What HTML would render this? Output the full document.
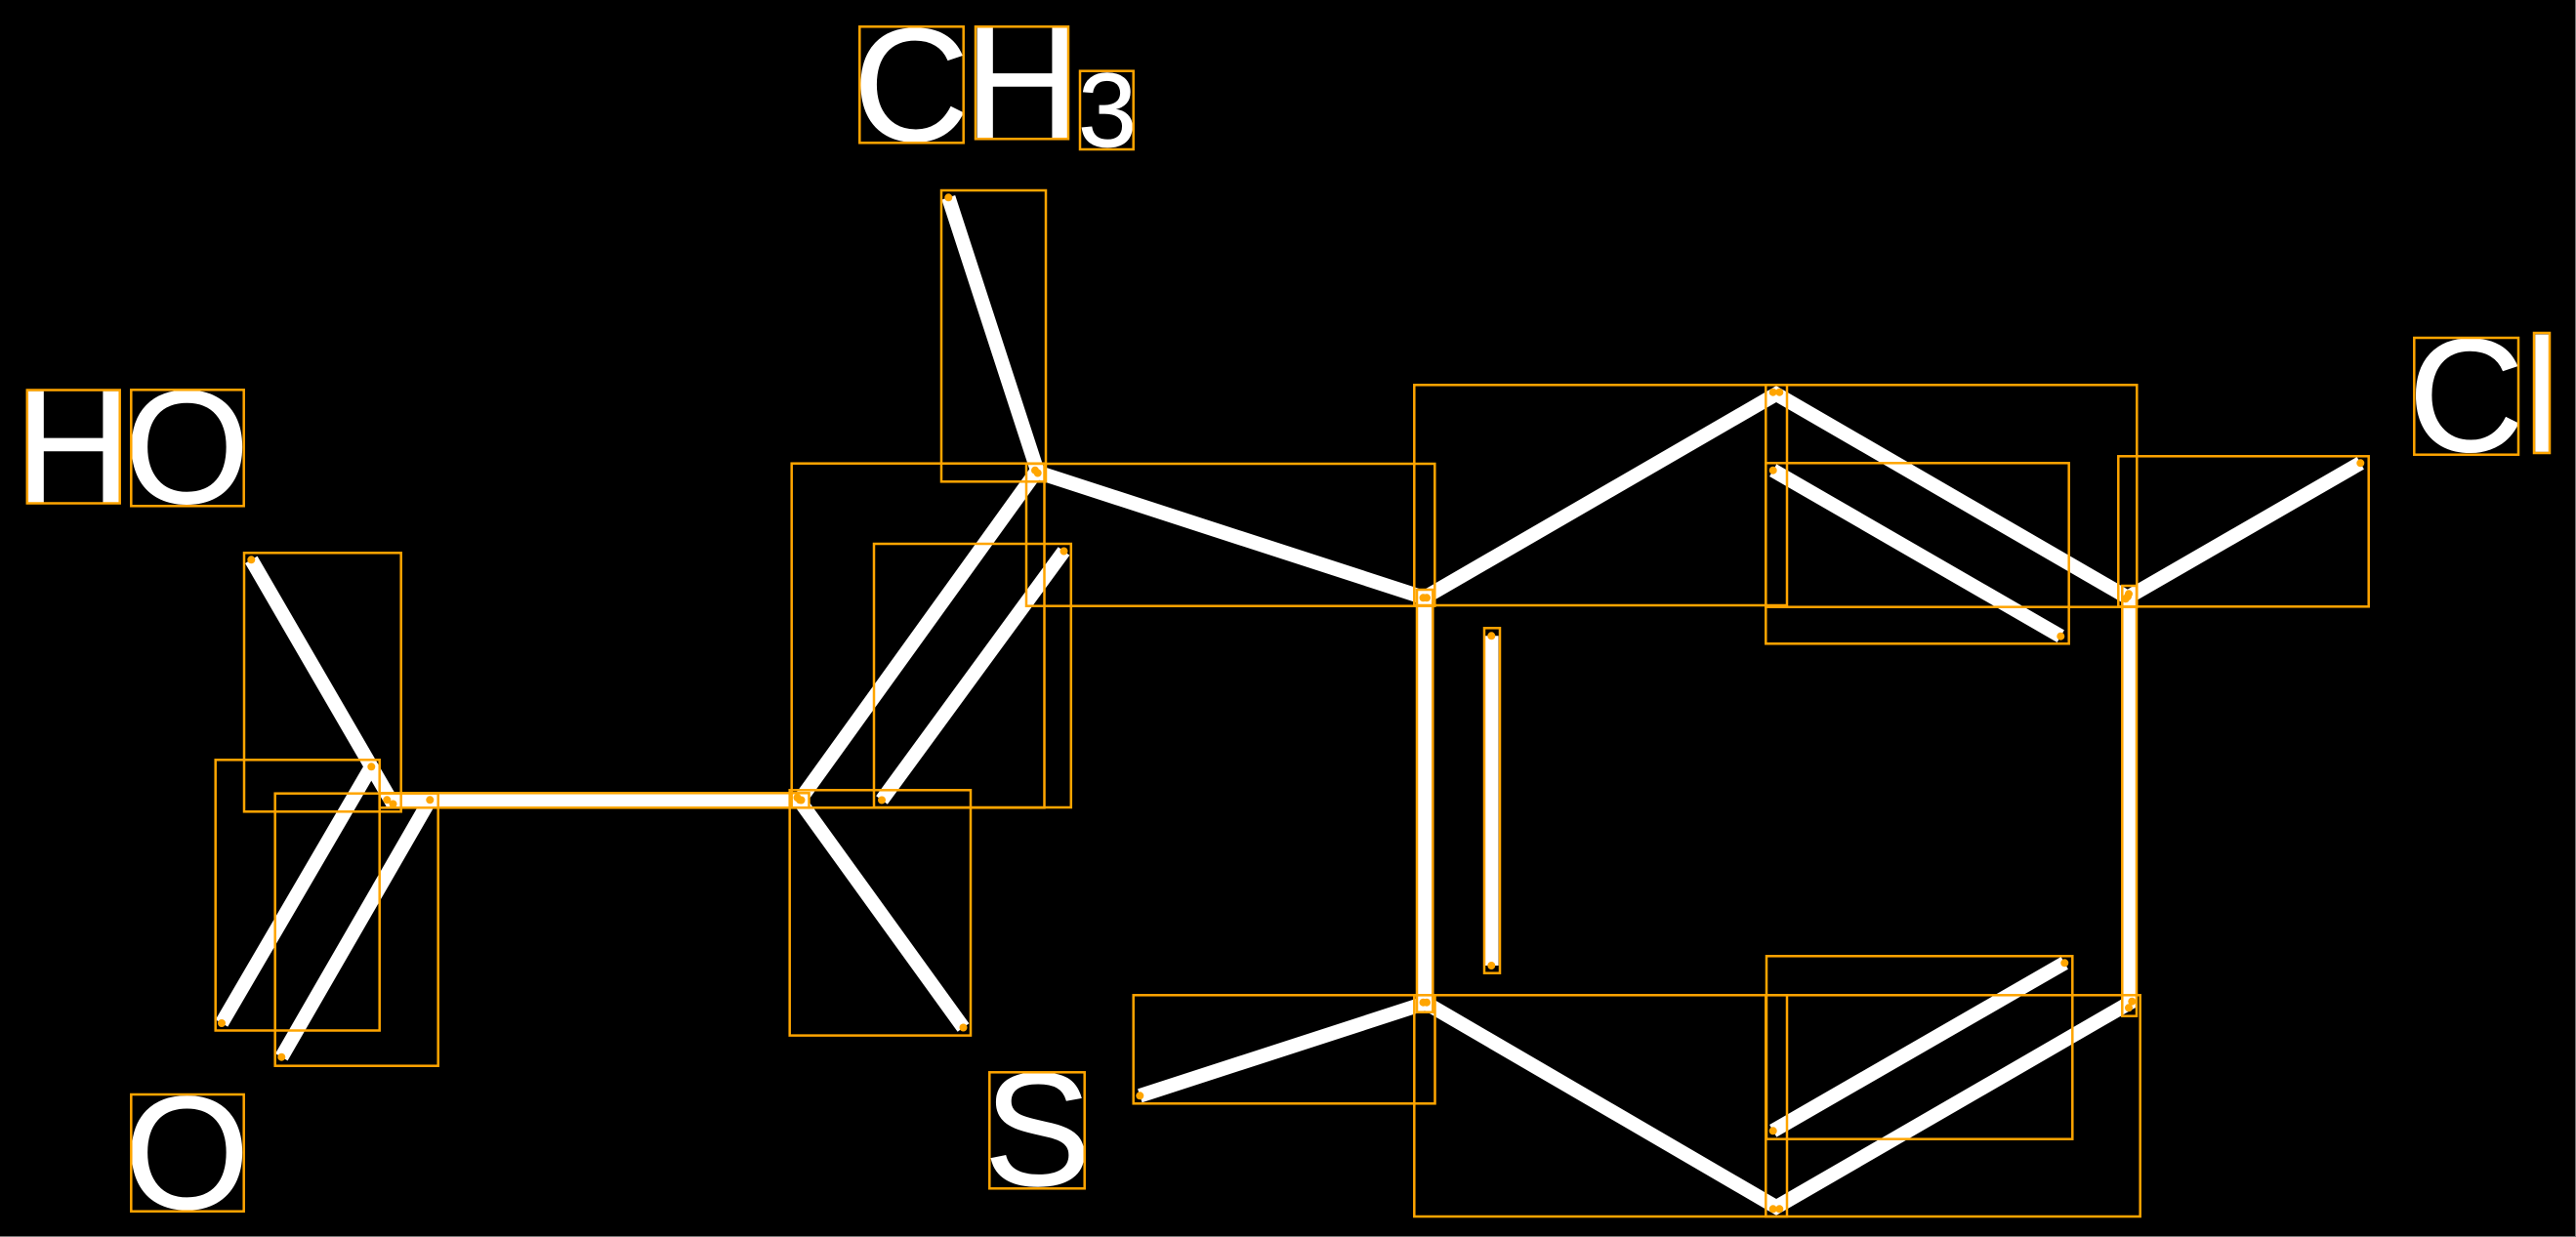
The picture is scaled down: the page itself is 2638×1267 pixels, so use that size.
<!DOCTYPE html>
<html lang="en">
<head>
<meta charset="utf-8">
<title>Molecule</title>
<style>
html,body{margin:0;padding:0;background:#000;width:2638px;height:1267px;overflow:hidden}
svg{display:block}
text{font-family:"Liberation Sans",sans-serif;fill:#fff;stroke:#fff;stroke-width:0.8px;font-size:165px}
</style>
</head>
<body>
<svg width="2638" height="1267" viewBox="0 0 2638 1267" xmlns="http://www.w3.org/2000/svg">
<rect x="0" y="0" width="2638" height="1267" fill="#000"/>
<rect x="2637" y="0" width="1" height="1267" fill="#777"/>
<rect x="0" y="1266" width="2638" height="1" fill="#777"/>

<g stroke="#fff" stroke-width="14.5" fill="none" stroke-linecap="butt">
<line x1="257.3" y1="573.3" x2="402.5" y2="823.5"/>
<line x1="380.3" y1="785.3" x2="227" y2="1048"/>
<line x1="440.3" y1="819.3" x2="288.3" y2="1082.7"/>
<line x1="396.3" y1="819.5" x2="820.5" y2="819.5"/>
<line x1="819" y1="819.5" x2="1062" y2="482"/>
<line x1="903" y1="819.5" x2="1089.5" y2="564.5"/>
<line x1="816.5" y1="817" x2="986.5" y2="1052.5"/>
<line x1="971.3" y1="202.3" x2="1063.5" y2="485.8"/>
<line x1="1059" y1="482.5" x2="1461" y2="613"/>
<line x1="1459" y1="612" x2="1459" y2="1029"/>
<line x1="1527.3" y1="651.3" x2="1527.3" y2="989"/>
<line x1="1459" y1="612" x2="1822.3" y2="401.7"/>
<line x1="1815.7" y1="401.7" x2="2180.5" y2="613"/>
<line x1="1815.7" y1="481.7" x2="2110.3" y2="651.7"/>
<line x1="2180" y1="608" x2="2180" y2="1032.3"/>
<line x1="2177" y1="613" x2="2417.3" y2="474.3"/>
<line x1="1459" y1="1026.7" x2="1822.3" y2="1238.3"/>
<line x1="1815.7" y1="1238.3" x2="2183.3" y2="1025.7"/>
<line x1="2114.3" y1="986.3" x2="1815.7" y2="1158.3"/>
<line x1="1461" y1="1027" x2="1167.3" y2="1122.3"/>
</g>

<text x="15.5" y="514.5">H</text>
<text x="127.3" y="515">O</text>
<text x="873.5" y="143.9">C</text>
<text x="987.5" y="141">H</text>
<text x="1104" y="150" style="font-size:108px">3</text>
<text x="1007.5" y="1213.7">S</text>
<text x="127.3" y="1237.7">O</text>
<text x="2466" y="462">C</text>
<text x="2585.5" y="462.5">l</text>

<g stroke="#ffa500" stroke-width="2.5" fill="none">
<rect x="27.8" y="399.5" width="94.9" height="116"/>
<rect x="134.3" y="399.3" width="115.4" height="119"/>
<rect x="880.3" y="27.3" width="106.4" height="119"/>
<rect x="999" y="27.3" width="95" height="115"/>
<rect x="1106" y="72.7" width="54.7" height="80.3"/>
<rect x="1013.3" y="1098.3" width="97.4" height="119"/>
<rect x="134.3" y="1121" width="115.4" height="119.7"/>
<rect x="2472.3" y="346" width="106.7" height="119.7"/>
<rect x="2595" y="341" width="16" height="123"/>

<rect x="250" y="566.3" width="160.7" height="265"/>
<rect x="220.7" y="778.3" width="168" height="277.2"/>
<rect x="281.7" y="812.7" width="167" height="279"/>
<rect x="388.7" y="812.3" width="439.8" height="15"/>
<rect x="810.7" y="474.7" width="258.8" height="352.6"/>
<rect x="895" y="557" width="201.8" height="270"/>
<rect x="808.7" y="809.3" width="185.3" height="251.3"/>
<rect x="964" y="195" width="107" height="298.3"/>
<rect x="1051" y="475" width="418.3" height="145.7"/>
<rect x="1451" y="604" width="16.3" height="432.7"/>
<rect x="1520" y="643.3" width="16" height="353.4"/>
<rect x="1448.3" y="394.3" width="381.7" height="225.7"/>
<rect x="1808.3" y="394.3" width="380" height="227.4"/>
<rect x="1808.3" y="474.3" width="310.4" height="185"/>
<rect x="2173.3" y="600" width="14.7" height="440.7"/>
<rect x="2169.3" y="467.3" width="256.4" height="154"/>
<rect x="1448.3" y="1019.3" width="381.7" height="226.7"/>
<rect x="1808.3" y="1019.3" width="383.4" height="226.7"/>
<rect x="1809" y="979.3" width="313.3" height="187.4"/>
<rect x="1160.7" y="1019.3" width="308.8" height="111"/>
</g>

<g fill="#ffa500">
<circle cx="257.3" cy="573.3" r="4"/><circle cx="396.3" cy="819.3" r="4"/><circle cx="402.5" cy="823.5" r="4"/>
<circle cx="380.3" cy="785.3" r="4"/><circle cx="227" cy="1048" r="4"/>
<circle cx="440.3" cy="819.3" r="4"/><circle cx="288.3" cy="1082.7" r="4"/>
<circle cx="819" cy="819.3" r="4"/><circle cx="816.5" cy="817" r="4"/><circle cx="820.5" cy="819.5" r="4"/>
<circle cx="903" cy="819.5" r="4"/><circle cx="1089.5" cy="564.5" r="4"/>
<circle cx="986.5" cy="1052.5" r="4"/>
<circle cx="971.3" cy="202.3" r="4"/><circle cx="1060" cy="481.7" r="4"/><circle cx="1062.7" cy="484.5" r="4"/>
<circle cx="1457.5" cy="612.3" r="4"/><circle cx="1461" cy="612.3" r="4"/>
<circle cx="1527.3" cy="651.3" r="4"/><circle cx="1527.3" cy="989" r="4"/>
<circle cx="1457.5" cy="1026.7" r="4"/><circle cx="1461" cy="1026.7" r="4"/>
<circle cx="1815.7" cy="401.7" r="4"/><circle cx="1822.3" cy="401.7" r="4"/>
<circle cx="1815.7" cy="481.7" r="4"/><circle cx="2110.3" cy="651.7" r="4"/>
<circle cx="2180" cy="608.3" r="4"/><circle cx="2176.7" cy="613.3" r="4"/><circle cx="2179" cy="611" r="4"/>
<circle cx="2417.3" cy="474.3" r="4"/>
<circle cx="2183.3" cy="1025.7" r="4"/><circle cx="2180" cy="1032.3" r="4"/>
<circle cx="1815.7" cy="1238.3" r="4"/><circle cx="1822.3" cy="1238.3" r="4"/>
<circle cx="2114.3" cy="986.3" r="4"/><circle cx="1815.7" cy="1158.3" r="4"/>
<circle cx="1167.3" cy="1122.3" r="4"/>
</g>
</svg>
</body>
</html>
